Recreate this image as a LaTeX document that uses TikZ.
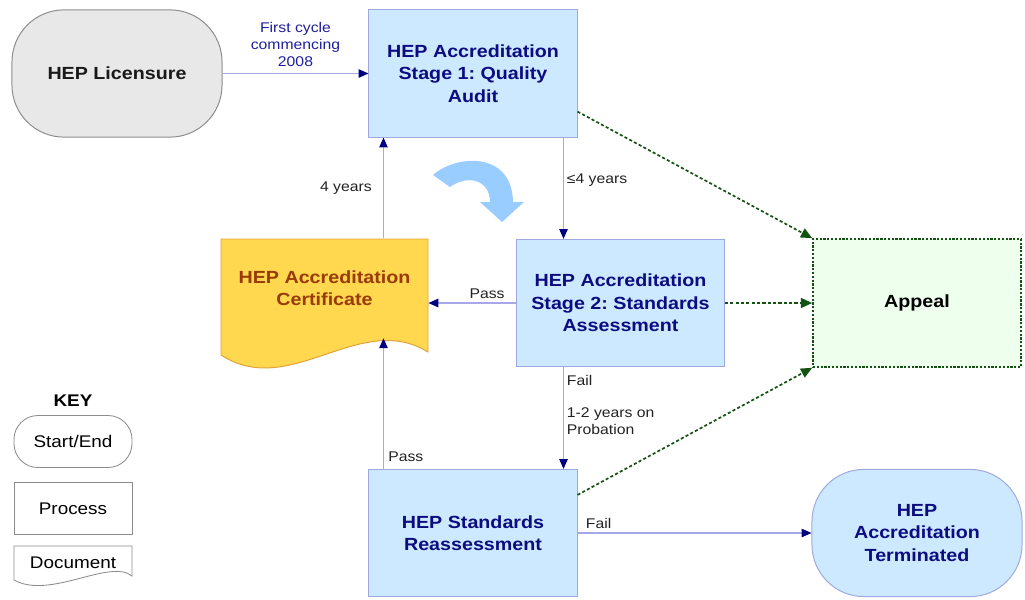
\documentclass[tikz,border=0pt]{standalone}
\usepackage{fontspec}
\setmainfont{Liberation Sans}[FakeStretch=1.12]
\usepackage{tikz}
\usetikzlibrary{arrows.meta}
\usetikzlibrary{positioning}
\frenchspacing

\definecolor{boxblue}{HTML}{CCE9FF}
\definecolor{boxline}{HTML}{9FA8DF}
\definecolor{navytext}{HTML}{0C0C80}
\definecolor{flowline}{HTML}{A8A8E8}
\definecolor{tipnavy}{HTML}{000080}
\definecolor{greyfill}{HTML}{E8E8E8}
\definecolor{greyline}{HTML}{8C8C8C}
\definecolor{certfill}{HTML}{FFD84F}
\definecolor{certline}{HTML}{E3A33A}
\definecolor{certtext}{HTML}{9A3A05}
\definecolor{appealfill}{HTML}{EEFFEE}
\definecolor{appealline}{HTML}{145214}
\definecolor{swirl}{HTML}{99CCFF}
\definecolor{labelblue}{HTML}{1E1E9C}
\definecolor{labeldark}{HTML}{222222}

\begin{document}
\begin{tikzpicture}[x=0.025cm, y=-0.025cm,
        stagebox/.style={rectangle, draw=boxline, fill=boxblue, line width=0.7pt, minimum width=5.2cm, minimum height=3.18cm, align=center, text=navytext, font=\fontsize{12.5}{16}\selectfont\bfseries},
        endcap/.style={rectangle, rounded corners=1.3cm, line width=0.7pt, minimum width=5.25cm, minimum height=3.18cm, align=center, font=\fontsize{12.5}{16}\selectfont\bfseries},
        certbox/.style={rectangle, minimum width=5.18cm, minimum height=2.5cm, align=center, text=certtext, font=\fontsize{12.5}{16}\selectfont\bfseries},
        appealbox/.style={rectangle, draw=appealline, fill=appealfill, line width=1.1pt, dash pattern=on 1.6pt off 1.1pt, minimum width=5.2cm, minimum height=3.2cm, font=\fontsize{12.5}{16}\selectfont\bfseries},
        keyitem/.style={rectangle, draw=greyline, fill=white, line width=0.6pt, minimum width=2.95cm, minimum height=1.3cm, font=\fontsize{12}{14}\selectfont},
        labeltext/.style={font=\fontsize{10}{12}\selectfont, text=labeldark, align=left, inner sep=2pt},
        flow/.style={draw=flowline, line width=0.8pt, -{Triangle[length=7pt, width=6pt, color=tipnavy]}},
        appealflow/.style={draw=appealline, line width=1.2pt, dash pattern=on 2.2pt off 1.6pt, -{Triangle[length=8pt, width=7pt, color=appealline]}}
      ]
        \useasboundingbox (0,0) rectangle (1025,599);

        % document outlines and the turning arrow
        \path[draw=certline, fill=certfill, line width=0.7pt] (221,239) -- (428,239) -- (428,352) .. controls (360,310) and (290,400) .. (221,355) -- cycle;
        \path[draw=greyline, fill=white, line width=0.6pt] (14,546) -- (132,546) -- (132,576) .. controls (110,558) and (50,600) .. (14,580) -- cycle;
        \fill[swirl] (433,175) .. controls (455,155) and (512,150) .. (513,202) -- (524,202) -- (502,222) -- (480,202) -- (490,202) .. controls (490,180) and (468,174) .. (450,187) -- cycle;

        \node[endcap, draw=greyline, fill=greyfill, text=black!90] (licensure) at (117,73.5)  {HEP Licensure};
        \node[stagebox]  (stage1)     at (473,73.5)   {HEP Accreditation\\Stage 1: Quality\\Audit};
        \node[stagebox]  (stage2)     at (620.5,303)  {HEP Accreditation\\Stage 2: Standards\\Assessment};
        \node[stagebox]  (reassess)   at (473,533)    {HEP Standards\\Reassessment};
        \node[certbox]   (cert)       at (324.5,288)  {HEP Accreditation\\Certificate};
        \node[appealbox] (appeal)     at (917,303)    {Appeal};
        \node[endcap, draw=boxline, fill=boxblue, text=navytext] (terminated) at (917,533) {HEP\\Accreditation\\Terminated};

        % key
        \node[font=\fontsize{12}{14}\selectfont\bfseries] (key) at (73,401) {KEY};
        \node[keyitem, rounded corners=0.6cm] (keystart) at (73,441.5) {Start/End};
        \node[keyitem] (keyproc) [below=0.35cm of keystart] {Process};
        \node[font=\fontsize{12}{14}\selectfont] (keydoc) at (73,563) {Document};

        \draw[flow] (licensure) -- (stage1) node[midway, above=1pt, align=center, text=labelblue, font=\fontsize{10}{12}\selectfont] {First cycle\\commencing\\2008};
        \draw[flow] ([xshift=-0.35cm]stage1.south east) -- ([xshift=-0.35cm]stage1.south east |- stage2.north) node[pos=0.42, right=0pt, labeltext] {≤4 years};
        \draw[flow] (stage2.west) -- (stage2.west -| cert.east) node[pos=0.33, above=1pt, labeltext] {Pass};
        \draw[flow] ([xshift=0.375cm]stage1.south west |- cert.north) -- ([xshift=0.375cm]stage1.south west) node[midway, left=6pt, labeltext] {4 years};
        \draw[flow] ([xshift=-0.35cm]reassess.north east |- stage2.south) -- ([xshift=-0.35cm]reassess.north east)
            node[pos=0.13, right=0pt, labeltext] {Fail}
            node[pos=0.53, right=0pt, labeltext] {1-2 years on\\Probation};
        \draw[flow] ([xshift=0.375cm]reassess.north west) -- ([xshift=0.375cm]reassess.north west |- cert.south) node[pos=0.09, right=1pt, labeltext] {Pass};
        \draw[flow] (reassess) -- (terminated) node[pos=0.09, above=1pt, labeltext] {Fail};

        \draw[appealflow] ([yshift=0.65cm]stage1.south east) -- (appeal.north west);
        \draw[appealflow] (stage2) -- (appeal);
        \draw[appealflow] ([yshift=-0.65cm]reassess.north east) -- (appeal.south west);
      \end{tikzpicture}
\end{document}
